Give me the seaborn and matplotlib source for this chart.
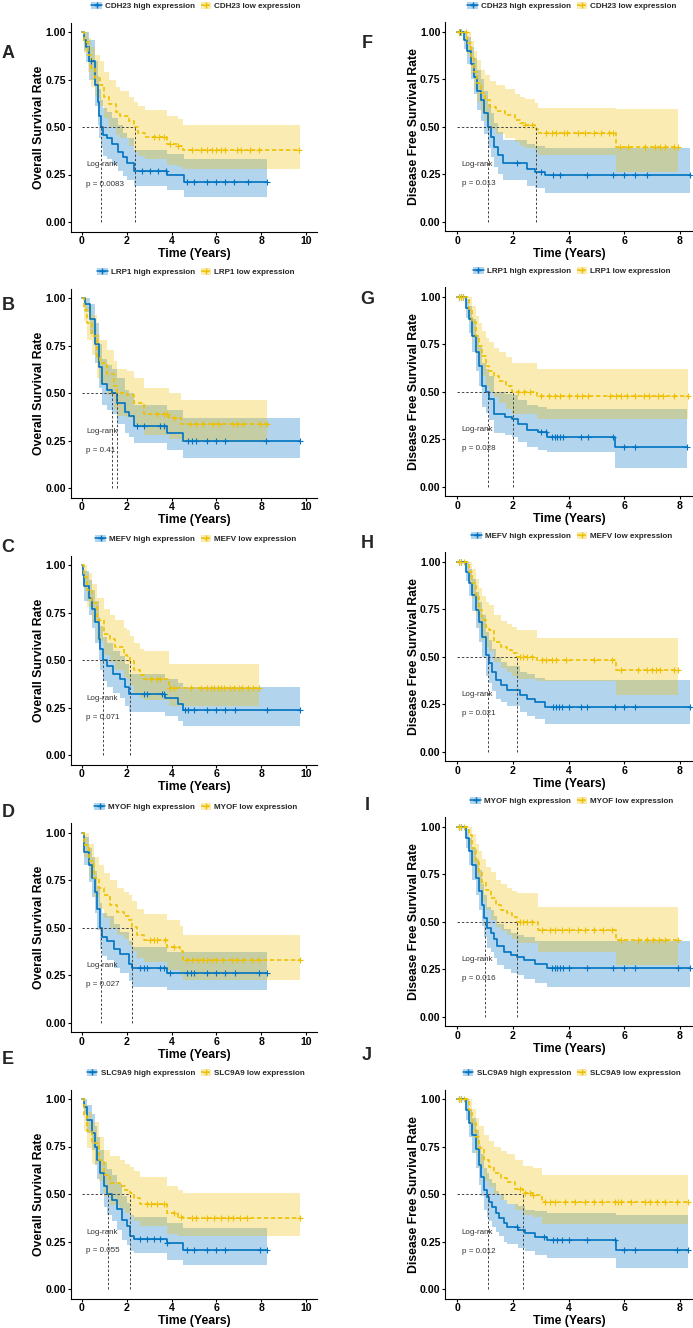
import pandas as pd
import seaborn as sns
import matplotlib.pyplot as plt
from matplotlib.patches import Patch
from matplotlib.lines import Line2D

# 1. Dados (tempo, sobrevida, IC inferior, IC superior)
genes = ["CDH23", "LRP1", "MEFV", "MYOF", "SLC9A9"]
letras_os = ["A", "B", "C", "D", "E"]
letras_dfs = ["F", "G", "H", "I", "J"]
p_os = ["0.0083", "0.41", "0.071", "0.027", "0.055"]
p_dfs = ["0.013", "0.028", "0.021", "0.016", "0.012"]

A_high = [(0.00, 1.00, 1.00, 1.00), (0.10, 0.96, 0.90, 1.00), (0.20, 0.92, 0.84, 1.00), (0.30, 0.85, 0.75, 0.96),
          (0.60, 0.72, 0.61, 0.85), (0.70, 0.63, 0.51, 0.77), (0.78, 0.56, 0.44, 0.70), (0.85, 0.50, 0.39, 0.64),
          (0.95, 0.46, 0.35, 0.60), (1.10, 0.44, 0.33, 0.58), (1.35, 0.41, 0.30, 0.55), (1.60, 0.37, 0.27, 0.51),
          (1.85, 0.34, 0.24, 0.47), (2.00, 0.31, 0.22, 0.44), (2.30, 0.27, 0.19, 0.38), (3.80, 0.25, 0.17, 0.36),
          (4.55, 0.21, 0.13, 0.33), (8.26, 0.21, 0.13, 0.33)]
A_low = [(0.00, 1.00, 1.00, 1.00), (0.10, 0.95, 0.89, 1.00), (0.25, 0.88, 0.79, 0.97), (0.40, 0.81, 0.71, 0.92),
         (0.60, 0.76, 0.66, 0.88), (0.80, 0.72, 0.61, 0.85), (1.00, 0.66, 0.55, 0.79), (1.20, 0.62, 0.50, 0.75),
         (1.50, 0.58, 0.46, 0.71), (1.70, 0.56, 0.44, 0.69), (2.10, 0.53, 0.40, 0.66), (2.30, 0.50, 0.37, 0.63),
         (2.50, 0.47, 0.35, 0.61), (2.80, 0.45, 0.33, 0.59), (3.80, 0.41, 0.30, 0.56), (4.30, 0.40, 0.29, 0.54),
         (4.50, 0.38, 0.28, 0.51), (9.75, 0.38, 0.28, 0.51)]
A_high_cens = [0.40, 2.70, 3.05, 3.40, 3.75, 4.70, 5.00, 5.60, 6.00, 6.40, 6.80, 7.40, 8.26]
A_low_cens = [3.20, 3.45, 3.65, 3.95, 4.30, 4.90, 5.30, 5.60, 5.80, 6.00, 6.20, 6.40, 6.90, 7.10, 7.50, 7.90, 9.70]
A_med = [0.85, 2.35]

B_high = [(0.00, 1.00, 1.00, 1.00), (0.15, 0.97, 0.93, 1.00), (0.37, 0.89, 0.81, 0.97), (0.60, 0.76, 0.66, 0.87),
          (0.74, 0.64, 0.53, 0.76), (0.90, 0.55, 0.44, 0.68), (1.10, 0.52, 0.41, 0.65), (1.34, 0.50, 0.39, 0.63),
          (1.56, 0.45, 0.34, 0.58), (1.93, 0.40, 0.29, 0.52), (2.10, 0.38, 0.27, 0.50), (2.30, 0.33, 0.24, 0.44),
          (3.80, 0.29, 0.20, 0.41), (4.50, 0.25, 0.16, 0.37), (9.75, 0.25, 0.16, 0.37)]
B_low = [(0.00, 1.00, 1.00, 1.00), (0.08, 0.94, 0.88, 1.00), (0.22, 0.87, 0.78, 0.96), (0.45, 0.80, 0.70, 0.91),
         (0.67, 0.69, 0.58, 0.81), (0.82, 0.66, 0.55, 0.78), (1.12, 0.60, 0.49, 0.73), (1.41, 0.54, 0.42, 0.67),
         (1.56, 0.50, 0.38, 0.63), (2.00, 0.49, 0.37, 0.62), (2.30, 0.45, 0.33, 0.58), (2.75, 0.39, 0.28, 0.53),
         (3.90, 0.37, 0.26, 0.50), (4.40, 0.34, 0.245, 0.465), (8.26, 0.34, 0.245, 0.465)]
B_high_cens = [2.45, 2.75, 3.50, 3.65, 4.75, 4.90, 5.10, 5.60, 6.00, 6.40, 8.20, 9.75]
B_low_cens = [3.35, 3.65, 3.80, 4.10, 4.80, 5.10, 5.40, 5.85, 6.10, 6.75, 6.90, 7.20, 7.95, 8.26]
B_med = [1.34, 1.56]

C_high = [(0.00, 1.00, 1.00, 1.00), (0.03, 0.95, 0.90, 1.00), (0.07, 0.89, 0.81, 0.97), (0.30, 0.83, 0.74, 0.92),
          (0.45, 0.77, 0.67, 0.87), (0.60, 0.70, 0.59, 0.81), (0.74, 0.61, 0.50, 0.73), (0.82, 0.56, 0.45, 0.68),
          (0.93, 0.50, 0.39, 0.62), (1.10, 0.47, 0.36, 0.59), (1.40, 0.43, 0.33, 0.55), (1.70, 0.40, 0.30, 0.52),
          (1.93, 0.36, 0.26, 0.48), (2.10, 0.32, 0.23, 0.43), (3.72, 0.30, 0.205, 0.40), (4.30, 0.27, 0.18, 0.38),
          (4.50, 0.24, 0.155, 0.36), (9.75, 0.24, 0.155, 0.36)]
C_low = [(0.00, 1.00, 1.00, 1.00), (0.07, 0.94, 0.88, 1.00), (0.22, 0.87, 0.78, 0.96), (0.45, 0.80, 0.70, 0.90),
         (0.67, 0.71, 0.60, 0.83), (0.97, 0.64, 0.53, 0.77), (1.26, 0.61, 0.49, 0.74), (1.49, 0.57, 0.45, 0.71),
         (1.86, 0.53, 0.41, 0.67), (2.00, 0.52, 0.40, 0.66), (2.13, 0.495, 0.37, 0.63), (2.30, 0.45, 0.33, 0.59),
         (2.60, 0.42, 0.30, 0.56), (2.75, 0.40, 0.29, 0.55), (3.87, 0.355, 0.26, 0.48), (7.89, 0.355, 0.26, 0.48)]
C_high_cens = [2.75, 2.90, 3.55, 3.65, 4.60, 4.75, 5.00, 5.60, 6.00, 6.40, 6.85, 8.25, 9.75]
C_low_cens = [3.10, 3.35, 3.50, 3.95, 4.10, 4.85, 5.30, 5.60, 5.75, 5.90, 6.05, 6.20, 6.35, 6.60, 6.80, 7.00,
              7.15, 7.40, 7.65, 7.89]
C_med = [0.93, 2.13]

D_high = [(0.00, 1.00, 1.00, 1.00), (0.07, 0.90, 0.83, 0.98), (0.30, 0.83, 0.74, 0.92), (0.45, 0.76, 0.66, 0.87),
          (0.60, 0.69, 0.58, 0.80), (0.67, 0.60, 0.49, 0.72), (0.82, 0.50, 0.39, 0.63), (0.89, 0.45, 0.35, 0.58),
          (1.12, 0.43, 0.33, 0.56), (1.41, 0.39, 0.29, 0.52), (1.70, 0.36, 0.26, 0.48), (2.08, 0.31, 0.22, 0.43),
          (2.23, 0.29, 0.19, 0.40), (3.80, 0.26, 0.17, 0.37), (8.26, 0.26, 0.17, 0.37)]
D_low = [(0.00, 1.00, 1.00, 1.00), (0.07, 0.935, 0.87, 1.00), (0.30, 0.85, 0.76, 0.94), (0.52, 0.76, 0.66, 0.87),
         (0.74, 0.71, 0.60, 0.83), (0.97, 0.67, 0.55, 0.79), (1.26, 0.62, 0.50, 0.75), (1.56, 0.585, 0.46, 0.71),
         (1.86, 0.56, 0.44, 0.69), (2.08, 0.54, 0.41, 0.67), (2.23, 0.505, 0.38, 0.64), (2.46, 0.46, 0.34, 0.60),
         (2.75, 0.435, 0.32, 0.57), (3.80, 0.40, 0.28, 0.54), (4.38, 0.375, 0.25, 0.51), (4.50, 0.33, 0.225, 0.46),
         (9.75, 0.33, 0.225, 0.46)]
D_high_cens = [2.60, 2.75, 2.90, 3.50, 3.65, 3.95, 4.70, 4.85, 5.00, 5.60, 6.00, 6.40, 6.85, 7.90, 8.26]
D_low_cens = [3.05, 3.20, 3.35, 3.70, 4.10, 4.70, 4.90, 5.20, 5.40, 5.60, 5.80, 6.00, 6.30, 6.70, 6.90, 7.20,
              7.60, 7.90, 9.75]
D_med = [0.86, 2.25]

E_high = [(0.00, 1.00, 1.00, 1.00), (0.07, 0.96, 0.92, 1.00), (0.22, 0.89, 0.82, 0.97), (0.45, 0.82, 0.73, 0.92),
          (0.60, 0.75, 0.65, 0.86), (0.67, 0.68, 0.58, 0.80), (0.82, 0.61, 0.50, 0.73), (0.97, 0.54, 0.43, 0.67),
          (1.12, 0.50, 0.39, 0.63), (1.34, 0.47, 0.36, 0.60), (1.56, 0.42, 0.31, 0.55), (1.79, 0.365, 0.26, 0.49),
          (2.01, 0.33, 0.23, 0.45), (2.16, 0.28, 0.20, 0.39), (2.30, 0.265, 0.19, 0.38), (3.80, 0.24, 0.155, 0.35),
          (4.50, 0.205, 0.128, 0.32), (8.26, 0.205, 0.128, 0.32)]
E_low = [(0.00, 1.00, 1.00, 1.00), (0.07, 0.91, 0.83, 0.98), (0.22, 0.83, 0.74, 0.93), (0.45, 0.77, 0.66, 0.88),
         (0.74, 0.68, 0.57, 0.80), (0.97, 0.60, 0.49, 0.73), (1.26, 0.56, 0.44, 0.70), (1.71, 0.54, 0.42, 0.68),
         (1.93, 0.52, 0.40, 0.66), (2.16, 0.505, 0.38, 0.64), (2.30, 0.48, 0.36, 0.62), (2.60, 0.45, 0.33, 0.59),
         (3.80, 0.40, 0.29, 0.54), (4.30, 0.38, 0.28, 0.52), (4.50, 0.375, 0.277, 0.505), (9.75, 0.375, 0.277, 0.505)]
E_high_cens = [2.60, 2.90, 3.20, 3.50, 3.80, 4.70, 5.00, 5.60, 6.00, 6.40, 7.95, 8.26]
E_low_cens = [2.90, 3.10, 3.35, 3.65, 4.10, 4.40, 4.90, 5.10, 5.60, 5.90, 6.20, 6.50, 6.75, 7.05, 7.35, 9.75]
E_med = [1.18, 2.15]

F_high = [(0.00, 1.00, 1.00, 1.00), (0.25, 0.956, 0.91, 1.00), (0.36, 0.90, 0.83, 0.97), (0.48, 0.83, 0.75, 0.92),
          (0.60, 0.76, 0.67, 0.86), (0.72, 0.69, 0.59, 0.80), (0.84, 0.64, 0.53, 0.75), (0.96, 0.57, 0.46, 0.69),
          (1.10, 0.50, 0.39, 0.62), (1.20, 0.447, 0.34, 0.57), (1.32, 0.395, 0.29, 0.52), (1.45, 0.35, 0.25, 0.47),
          (1.65, 0.307, 0.22, 0.43), (2.49, 0.28, 0.19, 0.41), (2.79, 0.263, 0.175, 0.40), (3.15, 0.246, 0.149, 0.386),
          (8.36, 0.246, 0.149, 0.386)]
F_low = [(0.00, 1.00, 1.00, 1.00), (0.36, 0.94, 0.88, 1.00), (0.48, 0.86, 0.78, 0.95), (0.60, 0.79, 0.70, 0.90),
         (0.72, 0.73, 0.63, 0.85), (0.84, 0.675, 0.57, 0.80), (1.00, 0.64, 0.53, 0.77), (1.18, 0.605, 0.49, 0.74),
         (1.41, 0.58, 0.46, 0.72), (1.71, 0.56, 0.44, 0.70), (2.07, 0.535, 0.42, 0.67), (2.25, 0.517, 0.40, 0.655),
         (2.43, 0.509, 0.39, 0.645), (2.79, 0.49, 0.375, 0.625), (2.91, 0.465, 0.35, 0.60), (5.72, 0.395, 0.263, 0.595),
         (7.94, 0.395, 0.263, 0.595)]
F_high_cens = [0.05, 0.10, 0.15, 2.13, 3.00, 3.45, 3.70, 4.65, 5.60, 6.00, 6.40, 6.80, 8.36]
F_low_cens = [0.05, 0.12, 0.30, 2.43, 2.67, 3.20, 3.40, 3.55, 3.85, 3.95, 4.35, 4.60, 4.90, 5.15, 5.45, 5.60,
              5.85, 6.15, 6.75, 7.10, 7.30, 7.45, 7.80, 7.94]
F_med = [1.12, 2.82]

G_high = [(0.00, 1.00, 1.00, 1.00), (0.30, 0.94, 0.89, 0.99), (0.42, 0.88, 0.81, 0.95), (0.54, 0.795, 0.71, 0.88),
          (0.66, 0.707, 0.61, 0.80), (0.78, 0.637, 0.53, 0.74), (0.90, 0.53, 0.42, 0.65), (1.02, 0.496, 0.39, 0.62),
          (1.14, 0.46, 0.35, 0.58), (1.32, 0.38, 0.28, 0.50), (1.71, 0.365, 0.27, 0.49), (1.95, 0.356, 0.26, 0.48),
          (2.19, 0.33, 0.235, 0.455), (2.49, 0.30, 0.21, 0.43), (2.91, 0.286, 0.195, 0.42), (3.21, 0.26, 0.18, 0.41),
          (5.66, 0.207, 0.10, 0.41), (8.24, 0.207, 0.10, 0.41)]
G_low = [(0.00, 1.00, 1.00, 1.00), (0.42, 0.935, 0.87, 1.00), (0.54, 0.865, 0.78, 0.95), (0.66, 0.795, 0.70, 0.90),
         (0.78, 0.742, 0.64, 0.86), (0.90, 0.69, 0.58, 0.82), (1.02, 0.637, 0.53, 0.78), (1.14, 0.61, 0.50, 0.76),
         (1.32, 0.584, 0.47, 0.73), (1.50, 0.558, 0.44, 0.71), (1.74, 0.53, 0.41, 0.68), (1.98, 0.50, 0.38, 0.65),
         (2.85, 0.476, 0.356, 0.62), (8.30, 0.476, 0.356, 0.62)]
G_high_cens = [0.05, 0.12, 0.20, 3.00, 3.20, 3.40, 3.50, 3.60, 3.70, 3.80, 4.45, 4.70, 5.60, 6.00, 6.40, 8.24]
G_low_cens = [0.05, 0.12, 0.20, 2.20, 2.40, 2.60, 3.00, 3.30, 3.50, 3.70, 4.00, 4.30, 4.50, 4.70, 5.50, 5.70,
              5.90, 6.10, 6.40, 6.70, 6.90, 7.20, 7.40, 7.80, 8.30]
G_med = [1.10, 2.00]

H_high = [(0.00, 1.00, 1.00, 1.00), (0.30, 0.947, 0.90, 1.00), (0.42, 0.886, 0.82, 0.96), (0.54, 0.825, 0.74, 0.91),
          (0.66, 0.746, 0.65, 0.84), (0.78, 0.684, 0.58, 0.79), (0.90, 0.605, 0.50, 0.72), (1.02, 0.509, 0.40, 0.63),
          (1.14, 0.465, 0.36, 0.59), (1.26, 0.42, 0.32, 0.54), (1.38, 0.377, 0.28, 0.50), (1.56, 0.35, 0.26, 0.47),
          (1.80, 0.325, 0.24, 0.45), (2.25, 0.298, 0.21, 0.42), (2.49, 0.28, 0.19, 0.41), (2.79, 0.263, 0.17, 0.39),
          (3.15, 0.237, 0.148, 0.376), (8.36, 0.237, 0.148, 0.376)]
H_low = [(0.00, 1.00, 1.00, 1.00), (0.42, 0.947, 0.89, 1.00), (0.54, 0.886, 0.81, 0.96), (0.66, 0.816, 0.72, 0.91),
         (0.78, 0.746, 0.65, 0.86), (0.90, 0.693, 0.59, 0.82), (1.02, 0.658, 0.55, 0.79), (1.14, 0.64, 0.53, 0.77),
         (1.32, 0.579, 0.47, 0.72), (1.56, 0.553, 0.44, 0.69), (1.80, 0.535, 0.42, 0.67), (1.98, 0.517, 0.40, 0.655),
         (2.16, 0.50, 0.385, 0.64), (2.85, 0.482, 0.37, 0.60), (5.72, 0.43, 0.30, 0.60), (7.94, 0.43, 0.30, 0.60)]
H_high_cens = [0.05, 0.12, 3.45, 3.55, 3.65, 3.75, 4.00, 4.45, 4.65, 5.65, 6.00, 6.40, 8.36]
H_low_cens = [0.05, 0.12, 0.25, 2.25, 2.37, 2.49, 2.67, 3.05, 3.20, 3.40, 3.55, 3.90, 4.90, 5.55, 5.90, 6.50,
              6.80, 7.00, 7.15, 7.30, 7.80, 7.94]
H_med = [1.10, 2.15]

I_high = [(0.00, 1.00, 1.00, 1.00), (0.30, 0.94, 0.89, 0.99), (0.42, 0.87, 0.80, 0.94), (0.54, 0.80, 0.72, 0.89),
          (0.66, 0.73, 0.64, 0.83), (0.78, 0.66, 0.56, 0.77), (0.90, 0.59, 0.48, 0.70), (0.96, 0.52, 0.42, 0.64),
          (1.08, 0.465, 0.36, 0.58), (1.20, 0.44, 0.34, 0.56), (1.32, 0.41, 0.31, 0.53), (1.44, 0.37, 0.27, 0.49),
          (1.68, 0.34, 0.25, 0.46), (1.92, 0.325, 0.23, 0.44), (2.16, 0.316, 0.22, 0.43), (2.40, 0.298, 0.20, 0.42),
          (2.79, 0.28, 0.18, 0.40), (3.21, 0.258, 0.158, 0.40), (8.36, 0.258, 0.158, 0.40)]
I_low = [(0.00, 1.00, 1.00, 1.00), (0.42, 0.956, 0.90, 1.00), (0.54, 0.886, 0.81, 0.96), (0.66, 0.816, 0.73, 0.91),
         (0.78, 0.763, 0.67, 0.87), (0.90, 0.71, 0.61, 0.83), (1.02, 0.667, 0.56, 0.79), (1.20, 0.623, 0.51, 0.76),
         (1.38, 0.588, 0.47, 0.72), (1.56, 0.561, 0.45, 0.70), (1.80, 0.544, 0.43, 0.68), (1.98, 0.526, 0.41, 0.66),
         (2.16, 0.50, 0.39, 0.65), (2.91, 0.456, 0.34, 0.58), (5.72, 0.404, 0.27, 0.58), (7.94, 0.404, 0.27, 0.58)]
I_high_cens = [0.05, 0.12, 3.40, 3.50, 3.60, 3.70, 3.80, 4.00, 4.65, 5.60, 6.00, 6.40, 7.94, 8.36]
I_low_cens = [0.05, 0.12, 0.25, 2.25, 2.37, 2.49, 2.67, 3.05, 3.35, 3.50, 3.75, 4.00, 4.35, 4.60, 4.90, 5.25,
              5.55, 5.90, 6.50, 6.80, 7.05, 7.25, 7.45, 7.94]
I_med = [1.00, 2.15]

J_high = [(0.00, 1.00, 1.00, 1.00), (0.30, 0.944, 0.89, 1.00), (0.42, 0.874, 0.80, 0.95), (0.54, 0.81, 0.72, 0.90),
          (0.66, 0.74, 0.64, 0.84), (0.78, 0.654, 0.55, 0.76), (0.86, 0.593, 0.49, 0.71), (0.96, 0.523, 0.42, 0.64),
          (1.08, 0.488, 0.38, 0.61), (1.14, 0.46, 0.36, 0.58), (1.26, 0.435, 0.33, 0.56), (1.38, 0.40, 0.30, 0.52),
          (1.50, 0.374, 0.28, 0.50), (1.68, 0.347, 0.25, 0.47), (1.80, 0.33, 0.24, 0.45), (2.19, 0.312, 0.22, 0.44),
          (2.43, 0.295, 0.20, 0.42), (2.79, 0.277, 0.18, 0.41), (3.21, 0.26, 0.167, 0.40), (5.72, 0.207, 0.11, 0.39),
          (8.30, 0.207, 0.11, 0.39)]
J_low = [(0.00, 1.00, 1.00, 1.00), (0.42, 0.944, 0.89, 1.00), (0.54, 0.874, 0.80, 0.95), (0.66, 0.80, 0.71, 0.90),
         (0.78, 0.742, 0.64, 0.86), (0.96, 0.68, 0.57, 0.81), (1.14, 0.646, 0.54, 0.78), (1.32, 0.61, 0.50, 0.75),
         (1.56, 0.584, 0.47, 0.73), (1.80, 0.567, 0.45, 0.71), (2.07, 0.53, 0.42, 0.68), (2.37, 0.505, 0.39, 0.65),
         (2.73, 0.496, 0.38, 0.64), (3.03, 0.46, 0.345, 0.60), (8.30, 0.46, 0.345, 0.60)]
J_high_cens = [0.05, 0.12, 2.13, 3.10, 3.45, 3.60, 3.75, 4.00, 4.65, 5.66, 6.00, 6.40, 7.90, 8.30]
J_low_cens = [0.05, 0.12, 0.25, 2.25, 2.43, 2.61, 2.73, 3.15, 3.35, 3.50, 3.87, 4.23, 4.60, 4.90, 5.20, 5.66,
              5.78, 5.90, 6.26, 6.74, 6.92, 7.16, 7.46, 7.88, 8.30]
J_med = [1.10, 2.35]

curvas_os = [(A_high, A_low, A_high_cens, A_low_cens, A_med), (B_high, B_low, B_high_cens, B_low_cens, B_med),
             (C_high, C_low, C_high_cens, C_low_cens, C_med), (D_high, D_low, D_high_cens, D_low_cens, D_med),
             (E_high, E_low, E_high_cens, E_low_cens, E_med)]
curvas_dfs = [(F_high, F_low, F_high_cens, F_low_cens, F_med), (G_high, G_low, G_high_cens, G_low_cens, G_med),
              (H_high, H_low, H_high_cens, H_low_cens, H_med), (I_high, I_low, I_high_cens, I_low_cens, I_med),
              (J_high, J_low, J_high_cens, J_low_cens, J_med)]

# 2. Estilo e layout (em pixels da figura)
sns.set_theme(style="ticks")
plt.rcParams["font.family"] = ["Liberation Sans", "DejaVu Sans"]
AZUL, AMARELO = "#0073C2", "#EFC000"
W, H = 693, 1328
fig = plt.figure(figsize=(W / 100, H / 100), dpi=100)

topo_os = [32.0, 298.3, 565.2, 832.7, 1099.0]
topo_dfs = [31.7, 296.7, 561.7, 826.7, 1099.3]
letra_os_y = [54, 305, 547, 813, 1060]
letra_dfs_y = [44, 300, 543, 806, 1055]
UNID = 190.0  # pixels por unidade de sobrevida


def passo(df, x):
    return df.loc[df["t"] <= x, "s"].iloc[-1]


def painel(y1, x0, x1, xlim, xticks, dados, gene, pval, ylabel, ylab_x, txt_x, leg_x):
    alto, baixo, c_alto, c_baixo, med = dados
    ax = fig.add_axes([x0 / W, 1 - (y1 + UNID + 9.5) / H, (x1 - x0) / W, (UNID * 1.1) / H])
    tabs = [pd.DataFrame(alto, columns=["t", "s", "lo", "hi"]), pd.DataFrame(baixo, columns=["t", "s", "lo", "hi"])]
    for df, cor in zip(tabs, [AZUL, AMARELO]):
        ax.fill_between(df["t"], df["lo"], df["hi"], step="post", color=cor, alpha=0.3, lw=0)
    for df, cens, cor, trac in zip(tabs, [c_alto, c_baixo], [AZUL, AMARELO], [False, True]):
        sns.lineplot(data=df, x="t", y="s", drawstyle="steps-post", color=cor, lw=1.2,
                     estimator=None, sort=False, ax=ax)
        if trac:
            ax.lines[-1].set_dashes([2.6, 1.6])
        sns.scatterplot(x=cens, y=[passo(df, c) for c in cens], marker="+", color=cor,
                        s=16, linewidth=0.8, ax=ax, zorder=4)
    # linhas da mediana
    ax.plot([0, max(med)], [0.5, 0.5], color="#444444", lw=0.7, dashes=[2.5, 2.0])
    for m in med:
        ax.plot([m, m], [0, 0.5], color="#444444", lw=0.7, dashes=[2.5, 2.0])
    ax.text(txt_x, 0.30, "Log-rank", fontsize=5.8, color="#333333", va="center", ha="left")
    ax.text(txt_x, 0.20, f"p = {pval}", fontsize=5.8, color="#333333", va="center", ha="left")

    ax.set_xlim(*xlim)
    ax.set_ylim(-0.05, 1.05)
    ax.set_xticks(xticks)
    ax.set_xticklabels([str(v) for v in xticks])
    ax.set_yticks([0, 0.25, 0.5, 0.75, 1.0])
    ax.set_yticklabels(["0.00", "0.25", "0.50", "0.75", "1.00"])
    for lab in ax.get_xticklabels() + ax.get_yticklabels():
        lab.set_fontweight("bold")
    ax.tick_params(length=2.2, width=0.8, color="black", pad=1.0, labelsize=7.6, labelcolor="black")
    sns.despine(ax=ax)
    for lado in ["left", "bottom"]:
        ax.spines[lado].set_color("black")
        ax.spines[lado].set_linewidth(0.8)
    ax.set_xlabel("Time (Years)", fontsize=8.8, fontweight="bold", color="black", va="center")
    ax.xaxis.set_label_coords(0.5, -(32 - 9.5) / (UNID * 1.1))
    ax.set_ylabel(ylabel, fontsize=8.8, fontweight="bold", color="black", va="center")
    ax.yaxis.set_label_coords((ylab_x - x0) / (x1 - x0), 0.5)

    alcas = [(Patch(facecolor=AZUL, alpha=0.3, lw=0), Line2D([], [], color=AZUL, lw=1.1, marker="+", ms=4)),
             (Patch(facecolor=AMARELO, alpha=0.3, lw=0), Line2D([], [], color=AMARELO, lw=1.1, marker="+", ms=4,
                                                               dashes=[2.2, 1.2]))]
    fig.legend(alcas, [f"{gene} high expression", f"{gene} low expression"], loc="center",
               bbox_to_anchor=(leg_x / W, 1 - (y1 - 26) / H), ncol=2, frameon=False,
               prop=dict(weight="bold", size=5.8), handlelength=1.3, handleheight=1.0,
               handletextpad=0.4, columnspacing=0.7, borderpad=0, borderaxespad=0)
    return ax


# 3. Painéis
for i in range(5):
    painel(topo_os[i], 70.8, 317.2, (-0.5, 10.5), [0, 2, 4, 6, 8, 10], curvas_os[i], genes[i], p_os[i],
           "Overall Survival Rate", 39, 0.18, 196)
    fig.text(8 / W, 1 - letra_os_y[i] / H, letras_os[i], fontsize=13, fontweight="bold", ha="center", va="center")
    painel(topo_dfs[i], 445.0, 693.0, (-0.44, 8.47), [0, 2, 4, 6, 8], curvas_dfs[i], genes[i], p_dfs[i],
           "Disease Free Survival Rate", 414, 0.16, 572)
    fig.text(367 / W, 1 - letra_dfs_y[i] / H, letras_dfs[i], fontsize=13, fontweight="bold", ha="center", va="center")

fig.savefig("out.png", dpi=100)
